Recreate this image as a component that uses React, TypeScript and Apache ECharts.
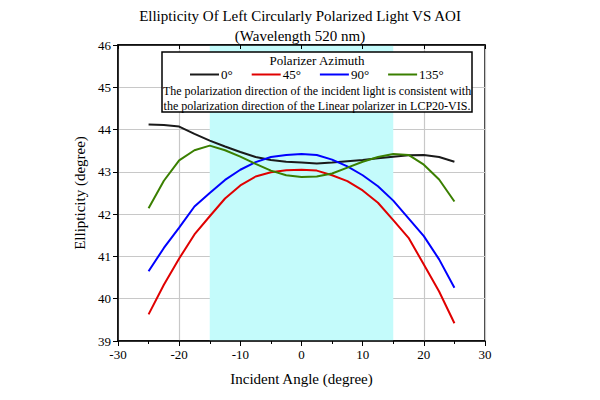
import React, { useEffect, useRef } from "react";
import * as echarts from "echarts";

const angles = [-25, -22.5, -20, -17.5, -15, -12.5, -10, -7.5, -5, -2.5, 0, 2.5, 5, 7.5, 10, 12.5, 15, 17.5, 20, 22.5, 25];
const az0 = [44.12, 44.11, 44.07, 43.9, 43.74, 43.6, 43.47, 43.35, 43.28, 43.24, 43.22, 43.2, 43.22, 43.25, 43.28, 43.32, 43.36, 43.39, 43.4, 43.35, 43.24];
const az45 = [39.63, 40.33, 40.95, 41.52, 41.95, 42.37, 42.68, 42.89, 42.99, 43.04, 43.05, 43.03, 42.92, 42.78, 42.56, 42.27, 41.86, 41.44, 40.81, 40.17, 39.42];
const az90 = [40.65, 41.2, 41.68, 42.18, 42.5, 42.81, 43.05, 43.23, 43.35, 43.4, 43.42, 43.4, 43.29, 43.13, 42.92, 42.66, 42.32, 41.9, 41.48, 40.93, 40.26];
const az135 = [42.14, 42.79, 43.27, 43.51, 43.62, 43.51, 43.36, 43.19, 43.03, 42.92, 42.88, 42.89, 42.96, 43.1, 43.24, 43.35, 43.42, 43.4, 43.17, 42.82, 42.3];
const seriesNames = ["0°", "45°", "90°", "135°"];
const seriesColors = ["#1a1a1a", "#e00000", "#0000ff", "#3a7f00"];
const bandRange = [-15, 15];
const titleLines = ["Ellipticity Of Left Circularly Polarized Light VS AOI", "(Wavelength 520 nm)"];
const legendTitle = "Polarizer Azimuth";
const noteLines = [
  "The polarization direction of the incident light is consistent with",
  "the polarization direction of the Linear polarizer in LCP20-VIS.",
];

const FONT = "Liberation Serif";

export default function App() {
  const ref = useRef<HTMLDivElement>(null);
  useEffect(() => {
    if (!ref.current) return;
    const chart = echarts.init(ref.current, null, { renderer: "svg" });
    const all = [az0, az45, az90, az135];
    const series: any[] = all.map((vals, i) => ({
      name: seriesNames[i],
      type: "line",
      data: angles.map((a, j) => [a, vals[j]]),
      showSymbol: false,
      symbol: "none",
      lineStyle: { color: seriesColors[i], width: 2 },
      itemStyle: { color: seriesColors[i] },
      z: 3,
    }));
    series[0].markArea = {
      silent: true,
      itemStyle: { color: "#c4fbfb" },
      data: [[{ xAxis: bandRange[0] }, { xAxis: bandRange[1] }]],
      z: 0,
    };
    chart.setOption({
      animation: false,
      backgroundColor: "#ffffff",
      textStyle: { fontFamily: FONT },
      title: {
        text: titleLines.join("\n"),
        left: "center",
        top: 1,
        textStyle: { fontFamily: FONT, fontSize: 15, fontWeight: "normal", color: "#000", lineHeight: 20 },
      },
      grid: { left: 118, right: 115, top: 45, bottom: 59, show: true, borderColor: "#000", borderWidth: 1.5, backgroundColor: "transparent" },
      legend: {
        data: seriesNames,
        left: 190,
        top: 68,
        padding: 0,
        z: 30,
        icon: "rect",
        itemWidth: 29,
        itemHeight: 2,
        itemGap: 19,
        textStyle: { fontFamily: FONT, fontSize: 13, lineHeight: 13, color: "#000", padding: [0, 0, 0, -3] },
      },
      xAxis: [
        {
          type: "value",
          min: -30,
          max: 30,
          interval: 10,
          name: "Incident Angle (degree)",
          nameLocation: "middle",
          nameGap: 30,
          nameTextStyle: { fontFamily: FONT, fontSize: 15, color: "#000" },
          axisLine: { show: true, onZero: false, lineStyle: { color: "#000", width: 1.5 } },
          axisTick: { show: true, length: 5, lineStyle: { color: "#000" } },
          minorTick: { show: true, splitNumber: 2, length: 3, lineStyle: { color: "#000" } },
          axisLabel: { fontFamily: FONT, fontSize: 13, color: "#000", margin: 7 },
          splitLine: { show: true, lineStyle: { color: "#c8c8c8", width: 1.2 } },
        },
        {
          type: "value",
          position: "top",
          min: -30,
          max: 30,
          interval: 10,
          axisLine: { show: true, onZero: false, lineStyle: { color: "#000", width: 1.5 } },
          axisTick: { show: true, inside: true, length: 4, lineStyle: { color: "#000" } },
          axisLabel: { show: false },
          splitLine: { show: false },
        },
      ],
      yAxis: {
        type: "value",
        min: 39,
        max: 46,
        interval: 1,
        name: "Ellipticity (degree)",
        nameLocation: "middle",
        nameGap: 27,
        nameTextStyle: { fontFamily: FONT, fontSize: 15, color: "#000" },
        axisLine: { show: true, onZero: false, lineStyle: { color: "#000", width: 1.5 } },
        axisTick: { show: true, length: 5, lineStyle: { color: "#000" } },
        axisLabel: { fontFamily: FONT, fontSize: 13, color: "#000", margin: 7 },
        splitLine: { show: true, lineStyle: { color: "#c8c8c8", width: 1.2 } },
      },
      graphic: [
        {
          type: "rect",
          shape: { x: 162, y: 52, width: 310, height: 60 },
          style: { fill: "#fff", stroke: "#000", lineWidth: 1.5 },
          z: 10,
        },
        {
          type: "text",
          x: 317,
          y: 60,
          style: { text: legendTitle, fontFamily: FONT, fontSize: 13, lineHeight: 13, fill: "#000", align: "center", verticalAlign: "middle" },
          z: 11,
        },
        {
          type: "text",
          x: 317,
          y: 98.5,
          style: {
            text: noteLines.join("\n"),
            fontFamily: FONT,
            fontSize: 12,
            lineHeight: 15,
            fill: "#000",
            align: "center",
            verticalAlign: "middle",
          },
          z: 11,
        },
      ],
      series,
    });
    return () => chart.dispose();
  }, []);
  return <div ref={ref} style={{ width: 600, height: 400, position: "absolute", left: 0, top: 0 }} />;
}
